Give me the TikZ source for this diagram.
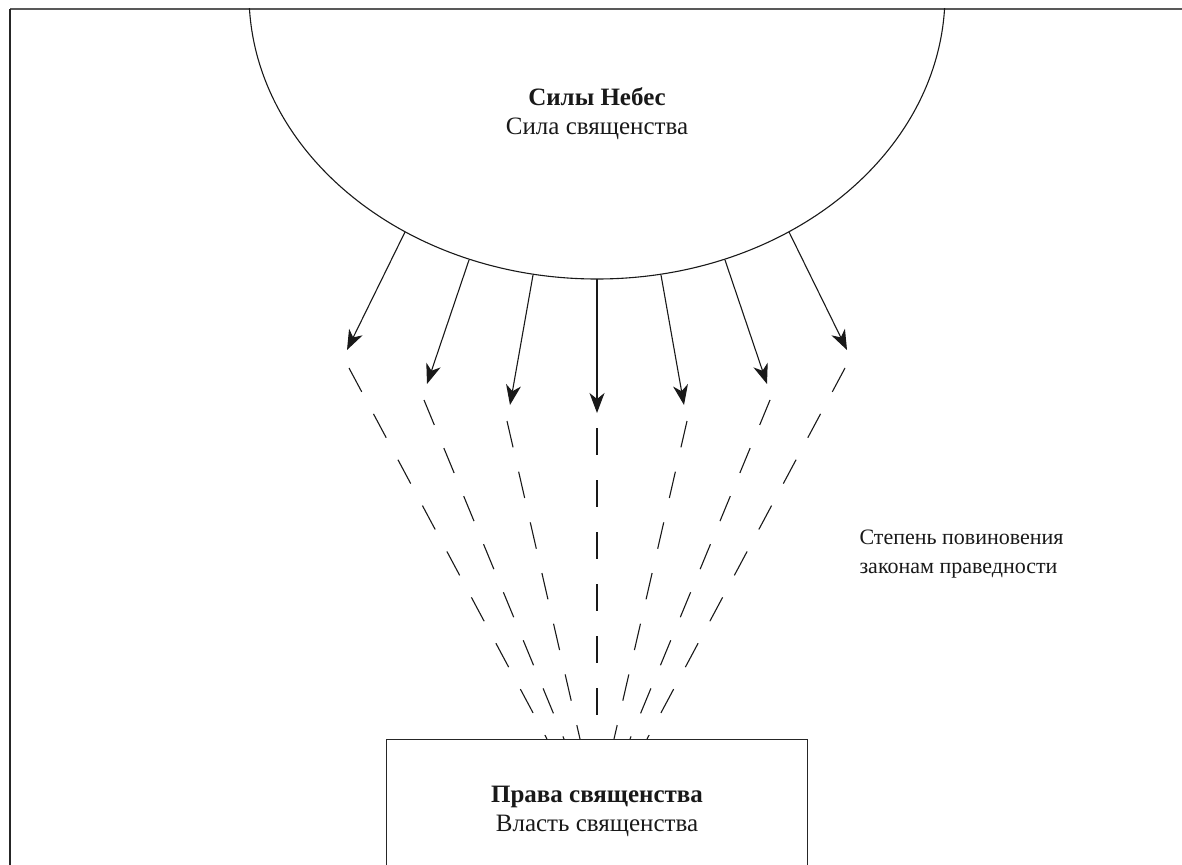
\documentclass[tikz,border=0pt]{standalone}
\usepackage{fontspec}
\setmainfont{Liberation Serif}
\usetikzlibrary{arrows.meta,shapes.geometric}
\begin{document}
\begin{tikzpicture}[x=1pt,y=-1pt,
  ray/.style={line width=1.1pt, black!90, -{Stealth[length=20pt,width=15pt,inset=6pt]}},
  ghost/.style={line width=1.1pt, black!90, dash pattern=on 27pt off 25pt},
  lbl/.style={font=\fontsize{25}{29}\selectfont, align=center, text=black!90},
  side/.style={font=\fontsize{22}{29}\selectfont, align=left, text=black!90},
]
\useasboundingbox (0,0) rectangle (1182,864);
\begin{scope}
  \clip (0,0) rectangle (1182,864);
  \coordinate (fr1) at (1190,9);
  \coordinate (fr2) at (10,9);
  \coordinate (fr3) at (10,875);
  \draw[line width=1.4pt, black!65] (fr1) -- (fr2);
  \draw[line width=1.4pt, black!85] (fr2) -- (fr3);
  \clip (0,9) rectangle (1182,864);
  \node[ellipse, draw, line width=1.1pt, black!90, minimum width=696pt, minimum height=570pt, inner sep=0pt] (heaven) at (597,-6) {};
  \node[draw, line width=1.4pt, black!85, minimum width=421pt, minimum height=200pt, inner sep=0pt, anchor=north] (rights) at (597,739) {};
\end{scope}

% arrow starts on the ellipse
\coordinate (s1) at (405,232);
\coordinate (s2) at (469,260);
\coordinate (s3) at (533,275);
\coordinate (s4) at (597,279);
\coordinate (s5) at (661,275);
\coordinate (s6) at (725,260);
\coordinate (s7) at (789,232);
% arrow tips
\coordinate (t1) at (347,350);
\coordinate (t2) at (427,384);
\coordinate (t3) at (510,405);
\coordinate (t4) at (597,413);
\coordinate (t5) at (684,405);
\coordinate (t6) at (767,384);
\coordinate (t7) at (847,350);
% dashed starts
\coordinate (d1) at (349,368);
\coordinate (d2) at (424,400);
\coordinate (d3) at (507,421);
\coordinate (d4) at (597,428);
\coordinate (d5) at (687,421);
\coordinate (d6) at (770,400);
\coordinate (d7) at (845,368);
% dashed ends on the box
\coordinate (b1) at (547,739);
\coordinate (b2) at (564,739);
\coordinate (b3) at (580,739);
\coordinate (b4) at (597,739);
\coordinate (b5) at (614,739);
\coordinate (b6) at (630,739);
\coordinate (b7) at (647,739);

\foreach \i in {1,...,7}{
  \draw[ray] (s\i) -- (t\i);
  \draw[ghost] (d\i) -- (b\i);
}

\node[lbl] (htitle) at (597,114) {\textbf{Силы Небес}\\Сила священства};
\node[lbl] (rtitle) at (597,811) {\textbf{Права священства}\\Власть священства};
\node[side, anchor=west] (obey) at (856,554) {Степень повиновения\\законам праведности};
\end{tikzpicture}
\end{document}
